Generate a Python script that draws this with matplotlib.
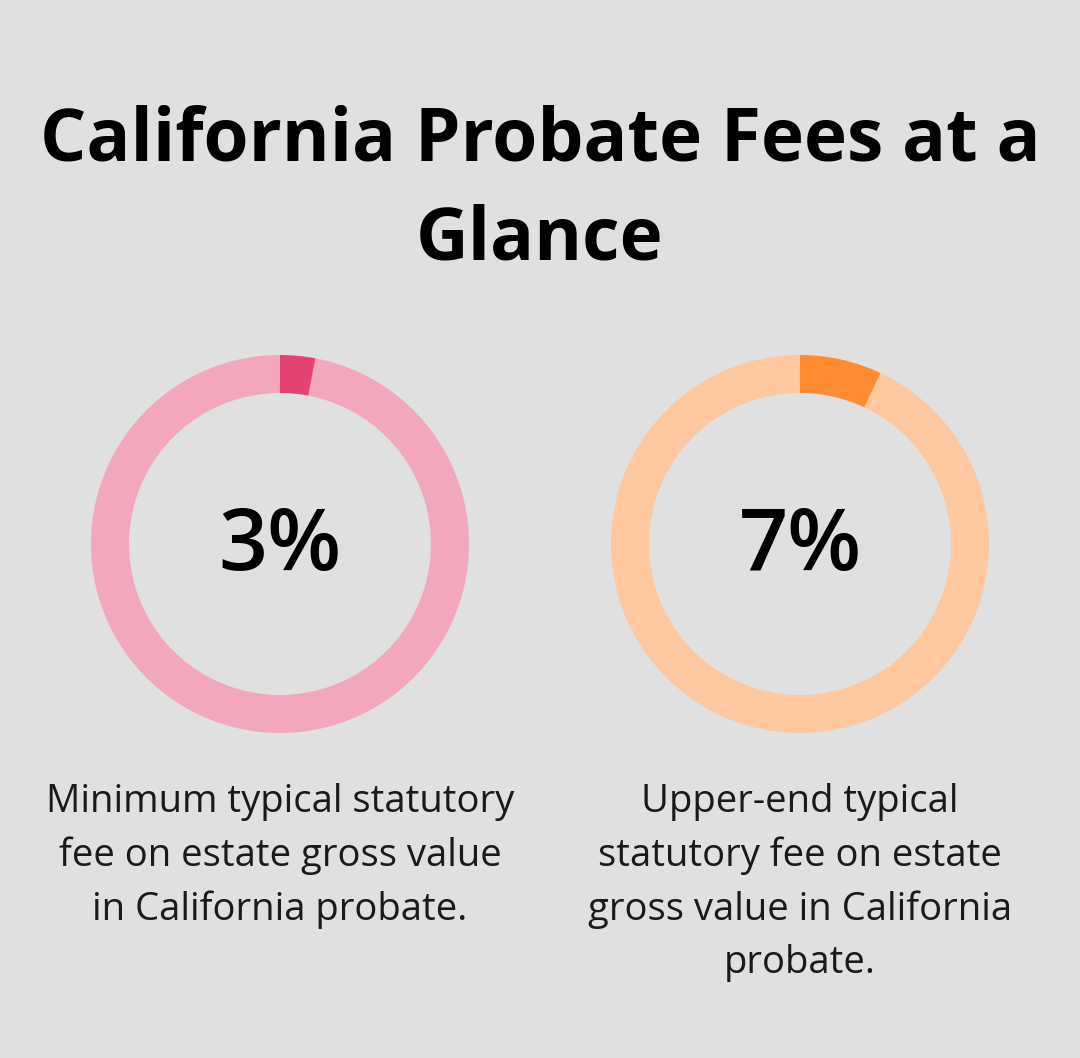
import matplotlib
matplotlib.use('Agg')
import matplotlib.pyplot as plt
from matplotlib.patches import Wedge

plt.rcParams['font.family'] = ['Open Sans', 'DejaVu Sans']

# data
title = "California Probate Fees at a\nGlance"
values = [3, 7]
labels = ["3%", "7%"]
captions = [
    "Minimum typical statutory\nfee on estate gross value\nin California probate.",
    "Upper-end typical\nstatutory fee on estate\ngross value in California\nprobate.",
]
light_colors = ["#F2A7BD", "#FDC8A0"]
dark_colors = ["#E54472", "#FF8C33"]
centers_px = [280, 800]

W, H = 1080, 1058
BG = "#DFE0DF"

fig = plt.figure(figsize=(W / 100, H / 100), dpi=100)
fig.patch.set_facecolor(BG)

fig.text(0.5, 1 - 191 / H, title, ha='center', va='center', fontsize=52.5,
         fontweight='bold', linespacing=1.46, color='#000000')

R_OUT, R_IN = 189, 151
half = 200
for v, lab, cap, lc, dc, cx in zip(values, labels, captions, light_colors,
                                   dark_colors, centers_px):
    ax = fig.add_axes([(cx - half) / W, 1 - (544 + half) / H,
                       2 * half / W, 2 * half / H])
    ax.set_xlim(-half, half)
    ax.set_ylim(-half, half)
    ax.set_aspect('equal')
    ax.axis('off')
    start = 90 - v / 100 * 360
    ax.add_patch(Wedge((0, 0), R_OUT, 90, start + 360, width=R_OUT - R_IN,
                       facecolor=lc, edgecolor='none'))
    ax.add_patch(Wedge((0, 0), R_OUT, start, 90, width=R_OUT - R_IN,
                       facecolor=dc, edgecolor='none'))
    ax.text(0, -4, lab, ha='center', va='center', fontsize=62,
            fontweight='semibold', color='#000000')

    fig.text(cx / W, 1 - 783 / H, cap, ha='center', va='top', fontsize=27.5,
             linespacing=1.52, color='#1a1a1a')

fig.savefig('out.png', dpi=100, facecolor=BG)
